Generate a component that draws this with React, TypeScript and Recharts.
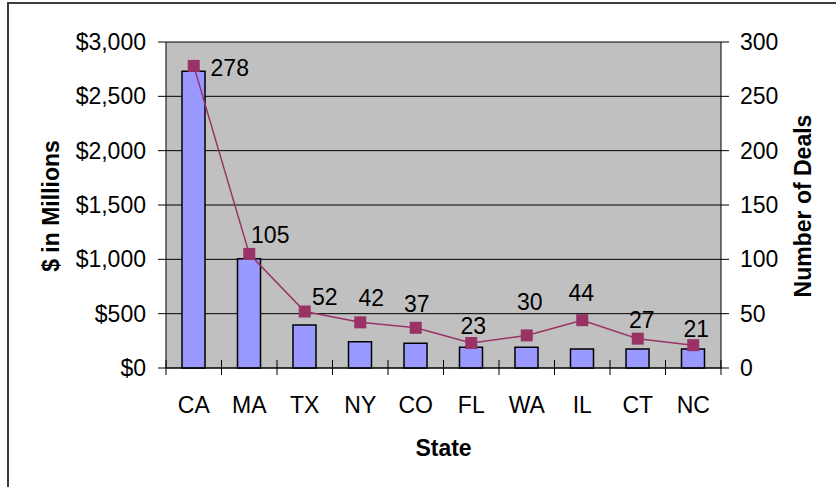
import {
    ComposedChart,
    Bar,
    Line,
    XAxis,
    YAxis,
    CartesianGrid,
    LabelList,
    Label,
} from "recharts";

const states = ["CA", "MA", "TX", "NY", "CO", "FL", "WA", "IL", "CT", "NC"];
const dollarsMillions = [2730, 1005, 395, 242, 227, 190, 190, 175, 175, 175];
const dealCounts = [278, 105, 52, 42, 37, 23, 30, 44, 27, 21];
const dollarTicks = [0, 500, 1000, 1500, 2000, 2500, 3000];
const dealTicks = [0, 50, 100, 150, 200, 250, 300];

// where each deal label sits relative to its marker (dx, dy)
const labelShift = [
    [36, 2], [21, -19], [20, -14], [11, -24], [1, -24],
    [2, -17], [3, -33], [-1, -27], [4, -19], [3, -16],
];

const FONT = "'Liberation Sans', Arial, sans-serif";
const PURPLE = "#993366";

const data = states.map((state, i) => ({
    state,
    dollars: dollarsMillions[i],
    deals: dealCounts[i],
}));

function StateTick(props: any) {
    const { x, y, payload, index } = props;
    const half = payload.offset ?? 0;
    return (
        <g>
            <line x1={x - half} x2={x - half} y1={y - 8} y2={y + 7} stroke="#000" />
            {index === states.length - 1 && (
                <line x1={x + half} x2={x + half} y1={y - 8} y2={y + 7} stroke="#000" />
            )}
            <text x={x} y={y + 37} textAnchor="middle" dominantBaseline="central"
                fill="#000" fontSize={23} fontFamily={FONT}>
                {payload.value}
            </text>
        </g>
    );
}

function SquareDot(props: any) {
    const { cx, cy, index } = props;
    return <rect key={`dot-${index}`} x={cx - 6} y={cy - 6} width={12} height={12} fill={PURPLE} />;
}

function DealLabel(props: any) {
    const { x, y, value, index } = props;
    const [dx, dy] = labelShift[index] ?? [0, -20];
    return (
        <text x={x + dx} y={y + dy} textAnchor="middle" dominantBaseline="central"
            fill="#000" fontSize={23} fontFamily={FONT}>
            {value}
        </text>
    );
}

function axisTitle(text: string, where: "left" | "right" | "bottom") {
    return (props: any) => {
        const vb = props.viewBox;
        if (where === "bottom") {
            return (
                <text x={vb.x + vb.width / 2} y={vb.y + 80} textAnchor="middle"
                    dominantBaseline="central" fontSize={23} fontWeight="bold"
                    fontFamily={FONT} fill="#000">
                    {text}
                </text>
            );
        }
        const cx = where === "left" ? vb.x + 51 : vb.x + 82;
        const cy = vb.y + vb.height / 2 + 1;
        return (
            <text x={cx} y={cy} transform={`rotate(-90, ${cx}, ${cy})`} textAnchor="middle"
                dominantBaseline="central" fontSize={23} fontWeight="bold"
                fontFamily={FONT} fill="#000">
                {text}
            </text>
        );
    };
}

export default function App() {
    return (
        <div style={{ position: "absolute", left: 0, top: 0, width: 836, height: 487, overflow: "hidden", background: "#fff" }}>
            <div style={{
                position: "absolute", left: 7, top: 2, width: 900, height: 600,
                borderTop: "2px solid #3c3c3c", borderLeft: "2px solid #3c3c3c",
            }} />
            <div style={{ position: "absolute", left: 0, top: 0 }}>
                <ComposedChart
                    width={836}
                    height={487}
                    data={data}
                    margin={{ top: 42, right: 0, left: 0, bottom: 0 }}
                    barSize={23}
                >
                    <CartesianGrid yAxisId="left" vertical={false} stroke="#000"
                        fill="#C0C0C0" fillOpacity={1} />
                    <XAxis dataKey="state" height={119} tickSize={0} tickMargin={0}
                        tick={<StateTick />} axisLine={{ stroke: "#000" }} interval={0}>
                        <Label content={axisTitle("State", "bottom")} />
                    </XAxis>
                    <YAxis yAxisId="left" width={166} domain={[0, 3000]} ticks={dollarTicks}
                        tickFormatter={(v: number) => `$${v.toLocaleString("en-US")}`}
                        tickSize={8} tickMargin={12}
                        tick={{ fill: "#000", fontSize: 23, fontFamily: FONT }}
                        tickLine={{ stroke: "#000" }} axisLine={{ stroke: "#000" }}>
                        <Label content={axisTitle("$ in Millions", "left")} />
                    </YAxis>
                    <YAxis yAxisId="right" orientation="right" width={115} domain={[0, 300]}
                        ticks={dealTicks} tickSize={8} tickMargin={11}
                        tick={{ fill: "#000", fontSize: 23, fontFamily: FONT }}
                        tickLine={{ stroke: "#000" }} axisLine={{ stroke: "#000" }}>
                        <Label content={axisTitle("Number of Deals", "right")} />
                    </YAxis>
                    <Bar yAxisId="left" dataKey="dollars" fill="#9999FF" stroke="#000"
                        strokeWidth={1.5} isAnimationActive={false} />
                    <Line yAxisId="right" dataKey="deals" stroke={PURPLE} strokeWidth={1.5}
                        dot={SquareDot} activeDot={false} isAnimationActive={false}>
                        <LabelList dataKey="deals" content={DealLabel} />
                    </Line>
                </ComposedChart>
            </div>
        </div>
    );
}
